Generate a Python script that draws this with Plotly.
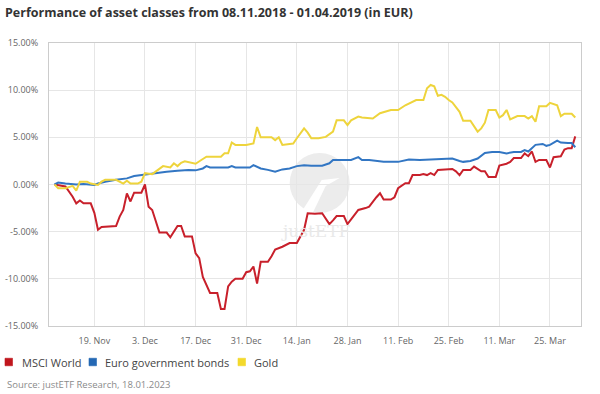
import datetime as dt
import plotly.graph_objects as go

START = dt.date(2018, 11, 8)

# MSCI World: (day offset from 08.11.2018, performance %)
msci_days = [0, 3, 5, 6, 7, 8, 10, 11, 12, 13, 17, 18, 19, 20, 21, 22, 24, 25, 26, 27,
             29, 31, 32, 34, 35, 36, 38, 39, 40, 41, 43, 45, 46, 47, 48, 49, 50, 52, 53, 54,
             55, 56, 57, 59, 60, 61, 63, 65, 67, 68, 69, 70, 72, 74, 76, 77, 78, 80, 81, 83,
             84, 86, 87, 89, 90, 91, 93, 94, 95, 97, 98, 99, 101, 102, 103, 104, 105, 106, 107, 108,
             110, 111, 112, 113, 115, 116, 118, 119, 120, 122, 123, 125, 126, 127, 129, 130, 131, 132, 133, 134,
             136, 137, 138, 140, 141, 142, 143, 144]
msci_vals = [0.0, -0.2, -1.3, -2.0, -1.7, -2.0, -2.0, -3.0, -4.8, -4.5, -4.4, -3.4, -2.7, -0.95, -1.8, -0.87, -0.87, 0.0, -2.35, -2.7,
             -5.1, -5.1, -5.6, -4.4, -4.4, -5.5, -5.5, -7.3, -7.8, -9.8, -11.5, -11.5, -13.2, -13.2, -10.8, -10.3, -10.0, -10.0, -9.3, -9.2,
             -8.7, -10.5, -8.2, -8.2, -7.6, -6.9, -6.6, -6.2, -6.2, -5.5, -4.8, -3.05, -3.1, -3.05, -4.2, -3.8, -3.35, -3.35, -4.2, -3.2,
             -2.7, -2.5, -2.35, -1.35, -0.93, -1.6, -1.6, -1.35, -0.4, 0.13, 0.13, 1.0, 1.0, 1.1, 1.0, 1.2, 1.0, 1.55, 1.55, 1.6,
             1.65, 1.4, 1.0, 1.55, 1.55, 1.9, 1.4, 1.4, 0.8, 0.8, 2.0, 2.2, 2.4, 2.8, 2.8, 3.3, 3.0, 3.5, 2.4, 2.6,
             2.6, 1.8, 2.9, 3.0, 3.7, 3.85, 3.85, 5.1]

# Euro government bonds
bond_days = [0, 1, 3, 6, 8, 11, 12, 14, 17, 20, 22, 24, 26, 28, 31, 34, 36, 37, 39, 41,
             42, 43, 48, 49, 50, 54, 55, 57, 59, 61, 63, 65, 67, 69, 71, 74, 76, 77, 79, 81,
             82, 84, 85, 87, 91, 95, 96, 98, 101, 104, 105, 107, 109, 110, 112, 113, 115, 117, 119, 121,
             123, 125, 127, 129, 130, 131, 133, 135, 136, 137, 139, 140, 142, 143, 144]
bond_vals = [0.0, 0.2, 0.1, 0.0, 0.05, -0.05, 0.1, 0.3, 0.5, 0.65, 0.9, 1.0, 1.1, 1.25, 1.35, 1.45, 1.55, 1.55, 1.5, 1.7,
             1.95, 1.8, 1.8, 1.95, 1.8, 1.8, 2.05, 1.7, 1.55, 1.35, 1.6, 1.7, 1.95, 2.05, 2.0, 2.0, 2.25, 2.6, 2.6, 2.65,
             2.6, 2.9, 2.6, 2.6, 2.4, 2.4, 2.5, 2.65, 2.6, 2.65, 2.65, 2.7, 2.75, 2.75, 2.5, 2.4, 2.5, 2.75, 3.35, 3.45,
             3.45, 3.3, 3.45, 3.45, 3.65, 3.5, 4.2, 4.3, 4.1, 4.2, 4.65, 4.45, 4.4, 4.4, 3.95]

# Gold
gold_days = [0, 1, 3, 5, 6, 7, 9, 10, 12, 13, 14, 17, 19, 20, 21, 23, 24, 25, 27, 29,
             30, 32, 33, 34, 35, 36, 38, 39, 41, 42, 46, 47, 48, 49, 50, 53, 55, 56, 57, 60,
             61, 62, 63, 66, 67, 69, 70, 71, 73, 75, 77, 78, 80, 81, 82, 84, 85, 88, 90, 93,
             95, 97, 100, 102, 103, 104, 105, 106, 107, 108, 109, 110, 112, 113, 115, 117, 118, 119, 120, 122,
             123, 124, 125, 126, 128, 130, 131, 132, 133, 134, 136, 137, 139, 140, 141, 143, 144]
gold_vals = [0.0, -0.4, -0.4, -0.15, -0.65, 0.3, 0.3, 0.1, -0.05, 0.3, 0.5, 0.5, 0.1, 0.4, 0.1, 0.1, 0.3, 1.2, 1.1, 1.7,
             1.95, 1.8, 2.25, 1.95, 2.3, 2.45, 2.3, 2.2, 2.7, 2.95, 2.95, 3.3, 3.3, 4.45, 4.2, 4.2, 4.35, 6.1, 5.0, 5.0,
             4.7, 5.0, 4.2, 4.35, 4.9, 5.95, 5.5, 4.9, 4.9, 5.05, 5.6, 6.8, 6.8, 6.3, 6.8, 7.2, 7.1, 7.0, 7.55, 7.9,
             7.9, 8.4, 8.95, 8.95, 10.2, 10.55, 10.4, 9.4, 9.5, 9.3, 8.95, 8.7, 7.7, 6.75, 6.75, 5.6, 5.95, 6.55, 7.9, 7.9,
             7.1, 7.35, 7.9, 6.9, 7.25, 7.25, 7.0, 7.25, 6.65, 8.3, 8.3, 8.65, 8.4, 7.25, 7.5, 7.5, 7.1]

series_names = ["MSCI World", "Euro government bonds", "Gold"]
series_colors = ["#c8202b", "#3276c3", "#eed43c"]
legend_colors = ["#c0161d", "#2468b4", "#f3d92c"]

tick_dates = ["2018-11-19", "2018-12-03", "2018-12-17", "2018-12-31", "2019-01-14",
              "2019-01-28", "2019-02-11", "2019-02-25", "2019-03-11", "2019-03-25"]
tick_labels = ["19. Nov", "3. Dec", "17. Dec", "31. Dec", "14. Jan",
               "28. Jan", "11. Feb", "25. Feb", "11. Mar", "25. Mar"]
y_ticks = [-15, -10, -5, 0, 5, 10, 15]

title_text = "Performance of asset classes from 08.11.2018 - 01.04.2019 (in EUR)"
source_text = "Source: justETF Research, 18.01.2023"


def to_dates(days):
    return [START + dt.timedelta(days=d) for d in days]


FONT = "Open Sans"
fig = go.Figure()

# plot area in pixels: left 49.3, right 581.3, top 43, bottom 326
PL, PR, PT, PB = 49.3, 581.3, 43.0, 326.0


def px(x):
    return (x - PL) / (PR - PL)


def py(y):
    return (PB - y) / (PB - PT)


# watermark (logo) shapes
cx, cy, r = 320, 183, 30
fig.add_shape(type="circle", xref="paper", yref="paper",
              x0=px(cx - r), x1=px(cx + r), y0=py(cy + r), y1=py(cy - r),
              fillcolor="#ececec", line=dict(width=0), layer="below")
fig.add_shape(type="path", xref="paper", yref="paper",
              path=f"M {px(303)} {py(210)} L {px(313)} {py(213)} L {px(326)} {py(186)} L {px(340)} {py(178)} L {px(322)} {py(180)} Z",
              fillcolor="white", line=dict(width=0), layer="below")
fig.add_annotation(xref="paper", yref="paper", x=px(316), y=py(231), text="justETF",
                   showarrow=False, font=dict(family="DejaVu Serif", size=17, color="#e9e9e9"),
                   xanchor="center", yanchor="middle")

all_days = [msci_days, bond_days, gold_days]
all_vals = [msci_vals, bond_vals, gold_vals]
for name, color, days, vals in zip(series_names, series_colors, all_days, all_vals):
    fig.add_trace(go.Scatter(x=to_dates(days), y=vals, mode="lines", name=name,
                             line=dict(color=color, width=2), showlegend=False,
                             hoverinfo="skip"))

# custom legend: squares + labels (pixel positions)
legend_sq_x = [5.3, 89.3, 238.3]
legend_txt_x = [20.0, 103.5, 252.0]
legend_y = 362
for name, color, sx, tx in zip(series_names, legend_colors, legend_sq_x, legend_txt_x):
    fig.add_shape(type="rect", xref="paper", yref="paper",
                  x0=px(sx), x1=px(sx + 7.5), y0=py(legend_y + 3.75), y1=py(legend_y - 3.75),
                  fillcolor=color, line=dict(width=0.6, color=color))
    fig.add_annotation(xref="paper", yref="paper", x=px(tx), y=py(legend_y), text=name,
                       showarrow=False, xanchor="left", yanchor="middle",
                       font=dict(family=FONT, size=11, color="#444444"))

fig.update_layout(
    width=600, height=394,
    margin=dict(l=PL, r=600 - PR, t=PT, b=394 - PB, autoexpand=False),
    paper_bgcolor="white", plot_bgcolor="white",
    font=dict(family=FONT, color="#666666"),
    title=dict(text="<b>" + title_text + "</b>", xref="container", yref="container",
               x=5 / 600, y=1 - 13 / 394, xanchor="left", yanchor="middle",
               font=dict(family=FONT, size=12.5, color="#333333")),
    showlegend=False,
)
fig.update_xaxes(
    type="date", range=["2018-11-06 11:00", "2019-04-02 14:00"], automargin=False,
    tickvals=tick_dates, ticktext=tick_labels, showgrid=True, gridcolor="#e6e6e6",
    showline=True, linecolor="#cccccc", mirror=True, zeroline=False, ticks="",
    tickfont=dict(family=FONT, size=9, color="#666666"), ticklabelstandoff=6,
)
fig.update_yaxes(
    range=[-15, 15], tickvals=y_ticks, ticktext=[f"{v:.2f}%" for v in y_ticks],
    automargin=False,
    showgrid=True, gridcolor="#e6e6e6", showline=True, linecolor="#cccccc", mirror=True,
    zeroline=False, ticks="", tickfont=dict(family=FONT, size=9, color="#666666"),
    ticklabelstandoff=8,
)
fig.add_annotation(xref="paper", yref="paper", x=px(5), y=py(384), text=source_text,
                   showarrow=False, xanchor="left", yanchor="middle",
                   font=dict(family=FONT, size=9.5, color="#8a8a8a"))

fig.write_html("out.html", config={"displayModeBar": False},
               post_script="document.body.style.margin='0';document.body.style.overflow='hidden';")
